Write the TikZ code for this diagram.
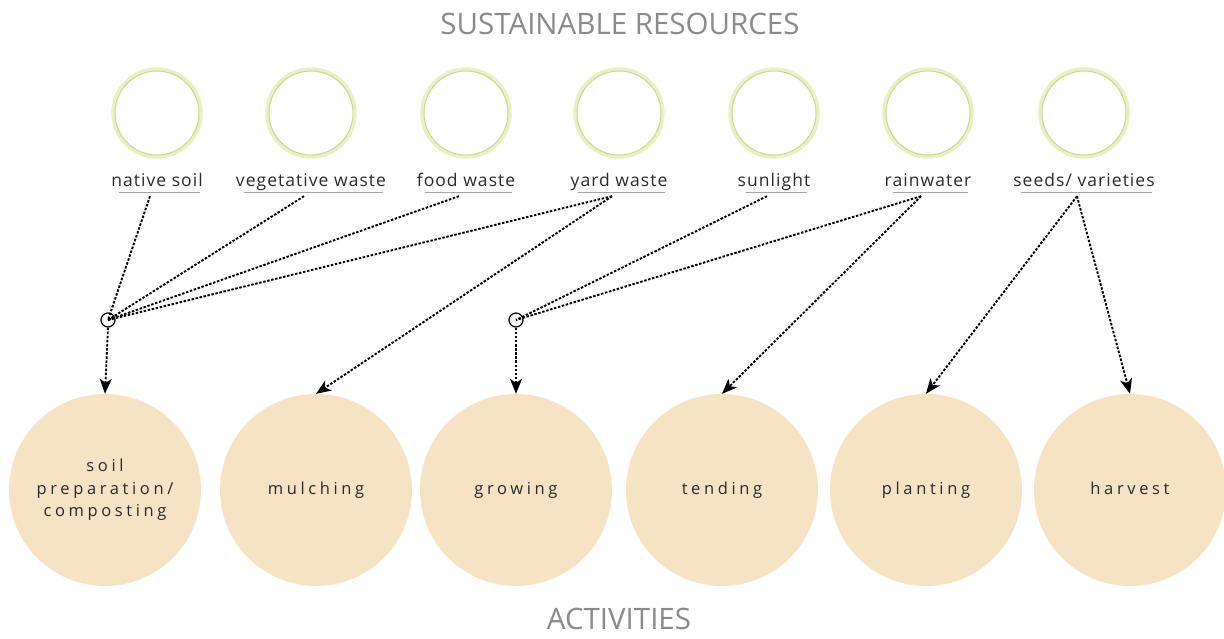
\documentclass[tikz,border=0pt]{standalone}
\usepackage{fontspec}
\setmainfont{Open Sans}
\newfontfamily\labfont[LetterSpace=6]{Open Sans}
\newfontfamily\actfont[LetterSpace=22]{Open Sans}
\usetikzlibrary{calc,arrows.meta,positioning}

\definecolor{ringout}{HTML}{E9F0C4}
\definecolor{ringin}{HTML}{C9D98E}
\definecolor{peach}{HTML}{F6E3C4}
\definecolor{headgray}{HTML}{8A8A8A}
\definecolor{txtgray}{HTML}{2A2A2A}

\tikzset{
  ring/.style={circle, draw=ringout, line width=3.5pt, minimum size=88pt, inner sep=0pt},
  ringline/.style={ringin, line width=1pt},
  lab/.style={font=\labfont\fontsize{17.5}{20}\selectfont, text=txtgray, inner sep=0pt, text depth=0pt, anchor=base},
  uline/.style={draw=gray!70, line width=0.8pt},
  act/.style={circle, fill=peach, minimum size=192pt, inner sep=0pt, align=center,
    font=\actfont\fontsize{16.5}{22.5}\selectfont, text=txtgray},
  junc/.style={circle, draw, line width=1.2pt, minimum size=14pt, inner sep=0pt},
  flow/.style={line width=1.9pt, dash pattern=on 2.5pt off 1.6pt},
  flowarr/.style={flow, -{Stealth[length=15pt,width=12pt,inset=4pt]}},
  head/.style={font=\fontsize{29.5}{32}\selectfont, text=headgray}
}

\begin{document}
\begin{tikzpicture}[x=1pt,y=-1pt]
  \useasboundingbox (0,0) rectangle (1224,638);

  % headings
  \node[head] (top) at (620,24) {SUSTAINABLE RESOURCES};
  \node[head] (bottom) at (619,619) {ACTIVITIES};

  % resources
  \foreach \i/\x/\txt in {1/157/native soil, 2/311/vegetative waste, 3/466/food waste,
      4/619/yard waste, 5/774/sunlight, 6/928/rainwater, 7/1084/{seeds/ varieties}}{
    \node[ring] (r\i) at (\x,113) {};
    \draw[ringline] (r\i.center) circle (42pt);
    \node[lab] (l\i) at (\x,186) {\txt};
    \draw[uline] ($(l\i.south west)+(8,6)$) -- ($(l\i.south east)+(-3,6)$);
    \coordinate (s\i) at ($(l\i.south)+(-7,10)$);
  }

  % activities
  \node[act] (a1) at (105,490) {soil\\preparation/\\composting};
  \node[act] (a2) at (316,490) {mulching};
  \node[act] (a3) at (516,490) {growing};
  \node[act] (a4) at (722,490) {tending};
  \node[act] (a5) at (926,490) {planting};
  \node[act] (a6) at (1130,490) {harvest\vphantom{g}};

  % junctions
  \node[junc] (j1) at (108,320) {};
  \node[junc] (j2) at (516,320) {};

  % flows
  \foreach \s in {s1,s2,s3,s4}
    \draw[flow] (\s) -- (j1.center);
  \foreach \s in {s5,s6}
    \draw[flow] (\s) -- (j2.center);
  \draw[flowarr] (j1.south) -- (a1.north);
  \draw[flowarr] (j2.south) -- (a3.north);
  \draw[flowarr] (s4) -- (a2.north);
  \draw[flowarr] (s6) -- (a4.north);
  \draw[flowarr] (s7) -- (a5.north);
  \draw[flowarr] (s7) -- (a6.north);
\end{tikzpicture}
\end{document}
